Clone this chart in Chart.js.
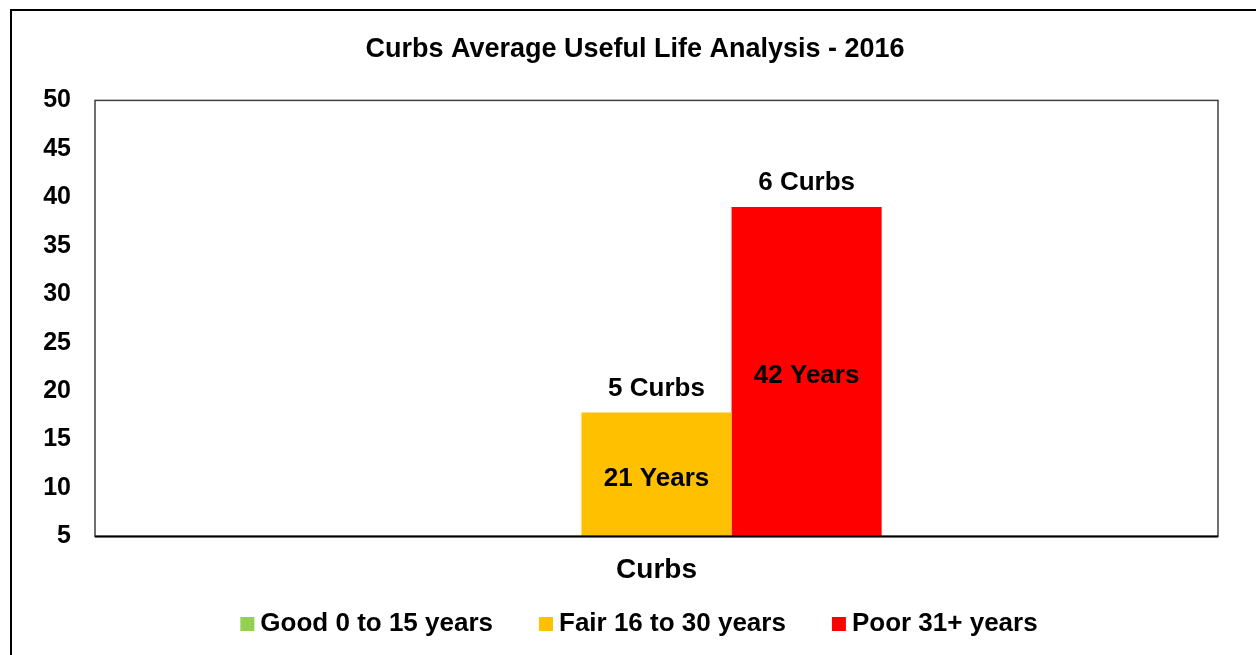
<!DOCTYPE html>
<html>
<head>
<meta charset="utf-8">
<script src="https://cdn.jsdelivr.net/npm/chart.js@4"></script>
<style>
  html, body { margin: 0; padding: 0; background: #fff; }
  #wrap { width: 1256px; height: 655px; }
</style>
</head>
<body>
<div id="wrap"><canvas id="curbs_bar" width="1256" height="655"></canvas></div>
<script>
// Data
var categories = ['Curbs'];
var seriesNames = ['Good 0 to 15 years', 'Fair 16 to 30 years', 'Poor 31+ years'];
var seriesColors = ['#92D050', '#FFC000', '#FF0000'];
var barValues = [0, 17.8, 39];
var curbCounts = [0, 5, 6];
var usefulYears = [0, 21, 42];
var yTicks = [5, 10, 15, 20, 25, 30, 35, 40, 45, 50];

var FONT = "'Liberation Sans', Arial, sans-serif";

// outer frame, plot box, bar labels and the legend row
var frame = {
    id: 'frame',
    afterLayout: function (chart) {
        // let the tick labels use the space left of the axis box
        chart.scales.y.left = 30;
    },
    beforeDraw: function (chart) {
        var c = chart.ctx;
        c.save();
        c.fillStyle = '#fff';
        c.fillRect(0, 0, chart.width, chart.height);
        c.strokeStyle = '#000';
        c.lineWidth = 2;
        c.beginPath();
        c.moveTo(11, chart.height + 5);
        c.lineTo(11, 10);
        c.lineTo(chart.width + 5, 10);
        c.stroke();
        c.restore();
    },
    afterDatasetsDraw: function (chart) {
        var c = chart.ctx;
        var a = chart.chartArea;
        c.save();
        c.strokeStyle = '#404040';
        c.lineWidth = 1.5;
        c.strokeRect(a.left, a.top, a.right - a.left, a.bottom - a.top);
        c.lineWidth = 2;
        c.strokeStyle = '#000';
        c.beginPath();
        c.moveTo(a.left, a.bottom);
        c.lineTo(a.right, a.bottom);
        c.stroke();

        c.fillStyle = '#000';
        c.font = 'bold 26px ' + FONT;
        c.textAlign = 'center';
        c.textBaseline = 'middle';
        chart.data.datasets.forEach(function (ds, i) {
            if (!curbCounts[i]) return;
            var bar = chart.getDatasetMeta(i).data[0];
            var base = Math.min(bar.base, a.bottom);
            c.fillText(curbCounts[i] + ' Curbs', bar.x, bar.y - 24);
            c.fillText(usefulYears[i] + ' Years', bar.x, (bar.y + base) / 2 + 4);
        });
        c.restore();
    },
    afterDraw: function (chart) {
        var c = chart.ctx;
        var box = 14, gap = 6, itemGap = 46, cy = 624;
        c.save();
        c.font = 'bold 26px ' + FONT;
        c.textBaseline = 'middle';
        c.textAlign = 'left';
        var widths = seriesNames.map(function (n) { return box + gap + c.measureText(n).width; });
        var total = widths.reduce(function (s, w) { return s + w; }, 0) + itemGap * (widths.length - 1);
        var x = 639 - total / 2;
        seriesNames.forEach(function (n, i) {
            c.fillStyle = seriesColors[i];
            c.fillRect(x, cy - box / 2, box, box);
            c.fillStyle = '#000';
            c.fillText(n, x + box + gap, cy);
            x += widths[i] + itemGap;
        });
        c.restore();
    }
};

var datasets = seriesNames.map(function (name, i) {
    return {
        label: name,
        data: [barValues[i]],
        backgroundColor: seriesColors[i],
        borderWidth: 0,
        clip: 0
    };
});

var ctx = document.getElementById('curbs_bar').getContext('2d');
var chart = new Chart(ctx, {
    type: 'bar',
    data: {
        labels: categories,
        datasets: datasets
    },
    plugins: [frame],
    options: {
        responsive: false,
        animation: false,
        devicePixelRatio: 1,
        categoryPercentage: 0.401,
        barPercentage: 1,
        layout: {
            padding: { left: 52, right: 38, top: 10, bottom: 51 }
        },
        plugins: {
            title: {
                display: true,
                text: 'Curbs Average Useful Life Analysis - 2016',
                color: '#000',
                font: { family: FONT, size: 27, weight: 'bold' },
                padding: { top: 23, bottom: 35 }
            },
            legend: { display: false },
            tooltip: { enabled: false }
        },
        scales: {
            x: {
                grid: { display: false, drawTicks: false },
                border: { display: false },
                ticks: {
                    color: '#000',
                    padding: 17,
                    font: { family: FONT, size: 28, weight: 'bold' }
                }
            },
            y: {
                min: yTicks[0],
                max: yTicks[yTicks.length - 1],
                grid: { display: false, drawTicks: false },
                border: { display: false },
                afterBuildTicks: function (axis) {
                    axis.ticks = yTicks.map(function (v) { return { value: v }; });
                },
                afterFit: function (axis) {
                    axis.width = 43;
                },
                ticks: {
                    color: '#000',
                    padding: 24,
                    font: { family: FONT, size: 25, weight: 'bold' }
                }
            }
        }
    }
});
</script>
</body>
</html>
